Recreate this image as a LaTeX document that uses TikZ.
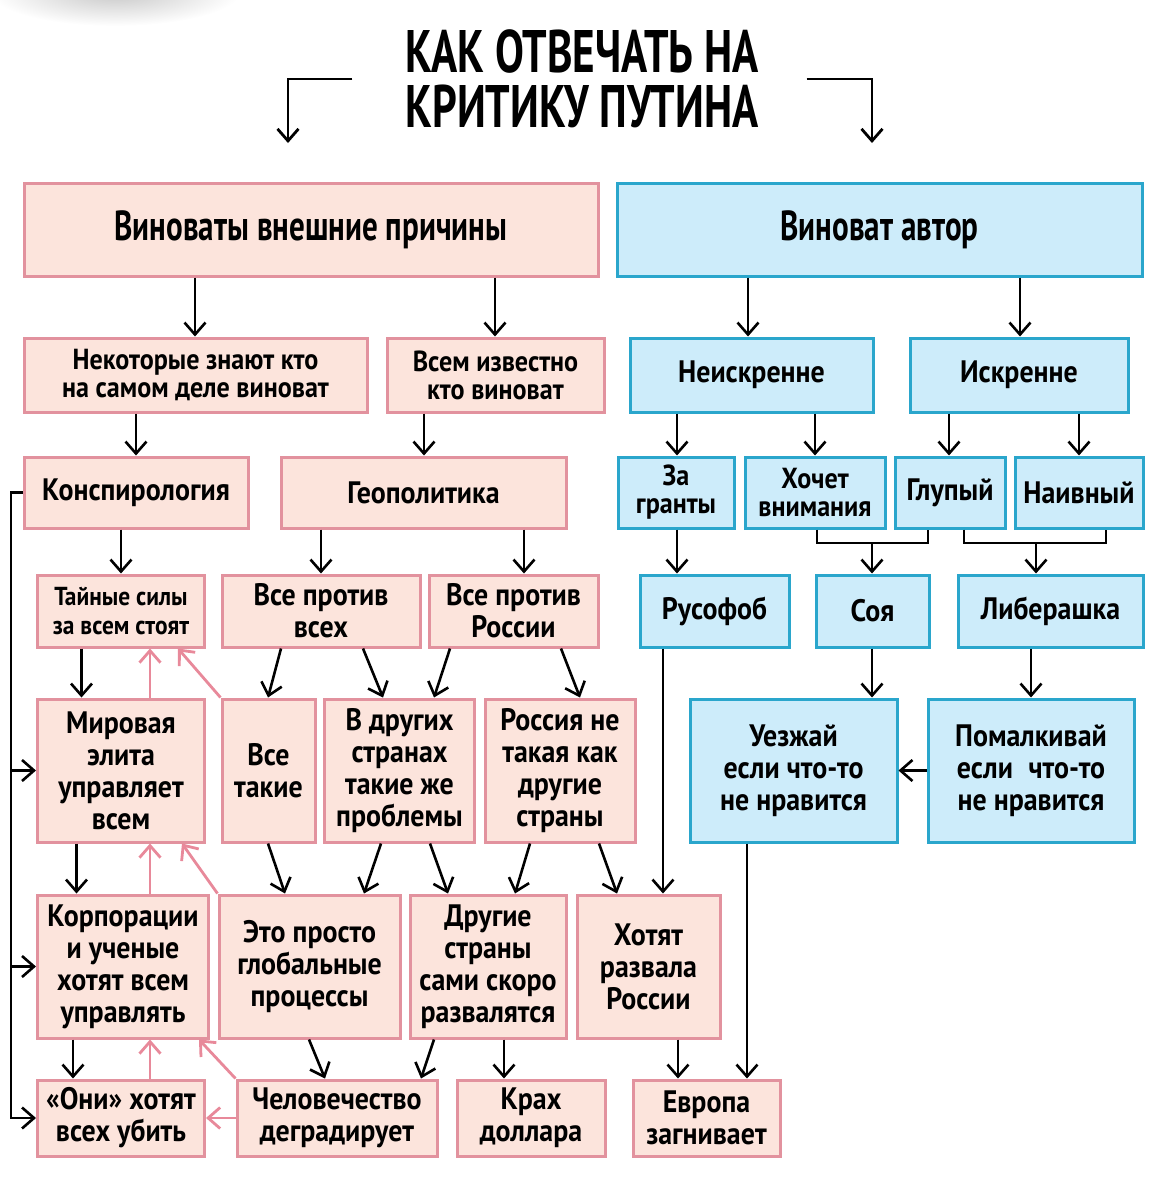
\documentclass[tikz,border=0pt]{standalone}
\usepackage{fontspec}
\setmainfont{PT Sans}[FakeStretch=0.9]
\newfontfamily\headfont{PT Sans}[FakeStretch=0.74]
\newfontfamily\titlefont{PT Sans}[FakeStretch=0.72]
\usetikzlibrary{arrows.meta}

\definecolor{pinkfill}{RGB}{252,228,220}
\definecolor{pinkline}{RGB}{226,146,158}
\definecolor{bluefill}{RGB}{205,236,250}
\definecolor{blueline}{RGB}{42,166,204}
\definecolor{pinkarrow}{RGB}{232,137,154}

\begin{document}
\begin{tikzpicture}[x=1pt,y=1pt,yscale=-1,xscale=1,
    pinkbox/.style={draw=pinkline,fill=pinkfill,line width=3pt,inner sep=0pt,align=center,
        font=\bfseries\fontsize{31}{32}\selectfont},
    bluebox/.style={pinkbox,draw=blueline,fill=bluefill},
    headtext/.style={font=\headfont\bfseries\fontsize{42}{44}\selectfont},
    tighttext/.style={font=\bfseries\fontsize{29}{28}\selectfont},
    smalltext/.style={font=\bfseries\fontsize{26}{29}\selectfont},
    line/.style={line width=2.6pt},
    arr/.style={line,-{Straight Barb[length=12pt,width=21pt]}},
    parr/.style={arr,draw=pinkarrow,line width=2.8pt}]
\useasboundingbox (0,0) rectangle (1156,1200);

%Shape: smudge in the corner
\shade[inner color=black!22,outer color=white] (115,-8) ellipse (125 and 34);

% Text Node: title
\node[inner sep=0pt,align=center,font=\titlefont\bfseries\fontsize{60}{55}\selectfont] (title) at (582,79) {КАК ОТВЕЧАТЬ НА\\КРИТИКУ ПУТИНА};
\coordinate (tl) at (288,143);
\coordinate (tr) at (872,143);
\draw[arr,line width=2.8pt] ([xshift=-53pt]title.west) -| (tl);
\draw[arr,line width=2.8pt] ([xshift=48pt]title.east) -| (tr);

%Shape: Rectangle -- top level
\node[pinkbox,headtext,minimum width=574pt,minimum height=93pt] (causes) at (311,229.5) {Виноваты внешние причины};
\node[bluebox,headtext,minimum width=525pt,minimum height=93pt] (author) at (879.5,229.5) {Виноват автор};

%Shape: Rectangle -- second row
\node[pinkbox,tighttext,minimum width=343pt,minimum height=74pt] (someknow) at (195.5,375) {Некоторые знают кто\\на самом деле виноват};
\node[pinkbox,tighttext,minimum width=217pt,minimum height=74pt] (allknow) at (495.5,375) {Всем известно\\кто виноват};
\node[bluebox,minimum width=243pt,minimum height=74pt] (insincere) at (751.5,375) {Неискренне};
\node[bluebox,minimum width=218pt,minimum height=74pt] (sincere) at (1019,375) {Искренне};

%Shape: Rectangle -- third row
\node[pinkbox,minimum width=224pt,minimum height=71pt] (consp) at (136,492.5) {Конспирология};
\node[pinkbox,minimum width=285pt,minimum height=71pt] (geopol) at (423.5,492.5) {Геополитика};
\node[bluebox,tighttext,minimum width=116pt,minimum height=71pt] (grants) at (676,492.5) {За\\гранты};
\node[bluebox,tighttext,minimum width=140pt,minimum height=71pt] (attention) at (815,492.5) {Хочет\\внимания};
\node[bluebox,minimum width=110pt,minimum height=71pt] (stupid) at (950,492.5) {Глупый};
\node[bluebox,minimum width=128pt,minimum height=71pt] (naive) at (1079,492.5) {Наивный};

%Shape: Rectangle -- fourth row
\node[pinkbox,smalltext,minimum width=167pt,minimum height=72pt] (secret) at (121,611) {Тайные силы\\за всем стоят};
\node[pinkbox,minimum width=198pt,minimum height=72pt] (allvsall) at (321,611) {Все против\\всех};
\node[pinkbox,minimum width=169pt,minimum height=72pt] (allvsrus) at (513.5,611) {Все против\\России};
\node[bluebox,minimum width=149pt,minimum height=72pt] (rusophobe) at (714.5,611) {Русофоб};
\node[bluebox,minimum width=113pt,minimum height=72pt] (soy) at (872.5,611) {Соя};
\node[bluebox,minimum width=185pt,minimum height=72pt] (liberal) at (1050.5,611) {Либерашка};

%Shape: Rectangle -- fifth row
\node[pinkbox,minimum width=167pt,minimum height=143pt] (elite) at (121,770.5) {Мировая\\элита\\управляет\\всем};
\node[pinkbox,minimum width=93pt,minimum height=143pt] (allsame) at (268.5,770.5) {Все\\такие};
\node[pinkbox,minimum width=150pt,minimum height=143pt] (otherc) at (399.5,770.5) {В других\\странах\\такие же\\проблемы};
\node[pinkbox,minimum width=150pt,minimum height=143pt] (rusnot) at (560,770.5) {Россия не\\такая как\\другие\\страны};
\node[bluebox,minimum width=207pt,minimum height=143pt] (leave) at (793.5,770.5) {Уезжай\\если что-то\\не нравится};
\node[bluebox,minimum width=206pt,minimum height=143pt] (shutup) at (1031,770.5) {Помалкивай\\если\enspace что-то\\не нравится};

%Shape: Rectangle -- sixth row
\node[pinkbox,minimum width=171pt,minimum height=143pt] (corps) at (123,966.5) {Корпорации\\и ученые\\хотят всем\\управлять};
\node[pinkbox,minimum width=181pt,minimum height=143pt] (global) at (309.5,966.5) {Это просто\\глобальные\\процессы};
\node[pinkbox,minimum width=156pt,minimum height=143pt] (collapse) at (488,966.5) {Другие\\страны\\сами скоро\\развалятся};
\node[pinkbox,minimum width=143pt,minimum height=143pt] (breakup) at (648.5,966.5) {Хотят\\развала\\России};

%Shape: Rectangle -- bottom row
\node[pinkbox,minimum width=167pt,minimum height=76pt] (they) at (121,1118) {«Они» хотят\\всех убить};
\node[pinkbox,minimum width=200pt,minimum height=76pt] (humanity) at (337,1118) {Человечество\\деградирует};
\node[pinkbox,minimum width=148pt,minimum height=76pt] (dollar) at (531,1118) {Крах\\доллара};
\node[pinkbox,minimum width=147pt,minimum height=76pt] (europe) at (706.5,1118) {Европа\\загнивает};

%Straight Lines: black arrows, from x on the upper box to x on the lower box
\foreach \xa/\a/\xb/\b in {195/causes/195/someknow, 495/causes/495/allknow,
    748/author/748/insincere, 1020/author/1020/sincere,
    136/someknow/136/consp, 424/allknow/424/geopol,
    677/insincere/677/grants, 815/insincere/815/attention,
    949/sincere/949/stupid, 1079/sincere/1079/naive,
    121/consp/121/secret, 321/geopol/321/allvsall, 524/geopol/524/allvsrus,
    677/grants/677/rusophobe,
    81.5/secret/81.5/elite, 281/allvsall/268/allsame, 363/allvsall/383/otherc,
    450/allvsrus/434/otherc, 561/allvsrus/580/rusnot,
    872/soy/872/leave, 1031/liberal/1031/shutup, 663/rusophobe/663/breakup,
    76.5/elite/76.5/corps, 268/allsame/285/global, 381/otherc/364/global,
    430/otherc/448/collapse, 530/rusnot/515/collapse, 599/rusnot/617/breakup,
    747/leave/747/europe,
    73/corps/73/they, 309/global/325/humanity, 434/collapse/421/humanity,
    504/collapse/504/dollar, 678/breakup/678/europe}
  \draw[arr] (\xa,0 |- \a.south) -- (\xb,0 |- \b.north);

\draw[arr] (shutup.west) -- (leave.east);

%Straight Lines: joined brackets
\coordinate (j1) at (872,543);
\coordinate (j2) at (1036,543);
\draw[line] (817,0 |- attention.south) |- (j1) -| (928,0 |- stupid.south);
\draw[arr] (j1) -- (j1 |- soy.north);
\draw[line] (964,0 |- stupid.south) |- (j2) -| (1106,0 |- naive.south);
\draw[arr] (j2) -- (j2 |- liberal.north);

%Straight Lines: rail on the left
\coordinate (rail) at (11,0);
\draw[arr] (consp.west) -| (rail |- they.west) -- (they.west);
\foreach \b in {elite,corps}
  \draw[arr] (rail |- \b.west) -- (\b.west);

%Straight Lines: pink arrows going back up
\foreach \a/\b in {elite/secret,corps/elite,they/corps}
  \draw[parr] (150,0 |- \a.north) -- (150,0 |- \b.south);
\draw[parr] (allsame.north west) -- (178,0 |- secret.south);
\draw[parr] (global.north west) -- (182,0 |- elite.south);
\draw[parr] (humanity.north west) -- (199,0 |- corps.south);
\draw[parr] (humanity.west) -- (they.east);

\end{tikzpicture}
\end{document}
